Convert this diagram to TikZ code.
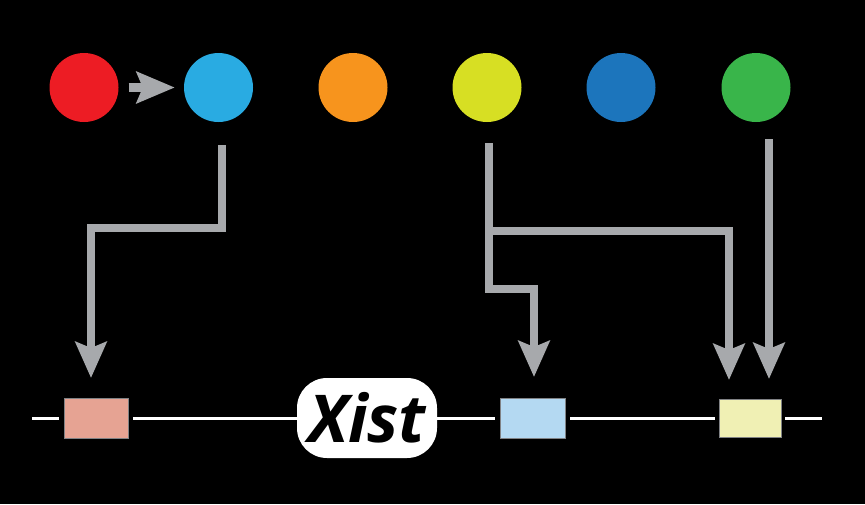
\documentclass[tikz,border=0pt]{standalone}
\usepackage{fontspec}
\setmainfont{Open Sans}
\usetikzlibrary{arrows.meta,calc}
\definecolor{cred}{HTML}{ED1C24}
\definecolor{clblue}{HTML}{29ABE2}
\definecolor{corange}{HTML}{F7941D}
\definecolor{cyellow}{HTML}{D7DF23}
\definecolor{cdblue}{HTML}{1C75BC}
\definecolor{cgreen}{HTML}{39B54A}
\definecolor{cgray}{HTML}{A7A9AC}
\definecolor{cpink}{HTML}{E6A393}
\definecolor{cpblue}{HTML}{B4D9F2}
\definecolor{cpyellow}{HTML}{F0F0B4}
\definecolor{cborder}{HTML}{808285}
\tikzset{
  dot/.style={circle,minimum size=69pt,inner sep=0pt,draw=none},
  gene/.style={rectangle,minimum height=40pt,inner sep=0pt,draw=cborder,line width=0.8pt},
  conn/.style={draw=cgray,line width=8pt,line join=miter,-{Stealth[length=36pt,width=31pt,inset=6pt]}},
  plain/.style={draw=cgray,line width=8pt,line join=miter},
  chrom/.style={draw=white,line width=3pt},
}
\begin{document}
\begin{tikzpicture}[x=1pt,y=-1pt]
\fill[black] (0,0) rectangle (865,504);
\useasboundingbox (0,0) rectangle (865,504);
% circles
\node[dot,fill=cred] (c1) at (84,87.5) {};
\node[dot,fill=clblue] (c2) at (218.5,87.5) {};
\node[dot,fill=corange] (c3) at (353,87.5) {};
\node[dot,fill=cyellow] (c4) at (487,87.5) {};
\node[dot,fill=cdblue] (c5) at (621,87.5) {};
\node[dot,fill=cgreen] (c6) at (756,87.5) {};
% small arrow
\draw[draw=cgray,line width=9pt,-{Stealth[length=38pt,width=31pt,inset=6pt]},shorten <=10pt,shorten >=9pt] (c1.east) -- (c2.west);
% genes
\node[gene,fill=cpink,minimum width=64pt] (r1) at (96,418) {};
\node[gene,fill=cpblue,minimum width=65pt] (r2) at (532.5,418) {};
\node[gene,fill=cpyellow,minimum width=62pt,minimum height=38pt] (r3) at (750,418) {};
\node[fill=white,rounded corners=30pt,minimum width=140pt,minimum height=80pt,inner sep=0pt,
  font=\fontsize{66}{66}\selectfont\bfseries\itshape] (x) at (367,418) {\raisebox{-1pt}{Xist}};
% chromosome line
\coordinate (l0) at (32,418);
\coordinate (l1) at (822,418);
\draw[chrom] (l0) -- ($(r1.west)+(-5,0)$);
\draw[chrom] ($(r1.east)+(5,0)$) -- (x.west);
\draw[chrom] (x.east) -- ($(r2.west)+(-5,0)$);
\draw[chrom] ($(r2.east)+(5,0)$) -- ($(r3.west)+(-4,0)$);
\draw[chrom] ($(r3.east)+(4,0)$) -- (l1);
% connectors
\coordinate (s2) at (222,145);
\coordinate (e1) at (91,378);
\draw[conn] (s2) -- (222,228) -| (e1);
\coordinate (s4) at (489,143);
\coordinate (j4) at (489,231);
\coordinate (e2) at (534,377);
\coordinate (e3) at (729,380);
\draw[conn] (s4) -- (489,289) -| (e2);
\draw[conn] (j4) -| (e3);
\coordinate (s6) at (769,139);
\coordinate (e4) at (769,379);
\draw[conn] (s6) -- (e4);
\end{tikzpicture}
\end{document}
